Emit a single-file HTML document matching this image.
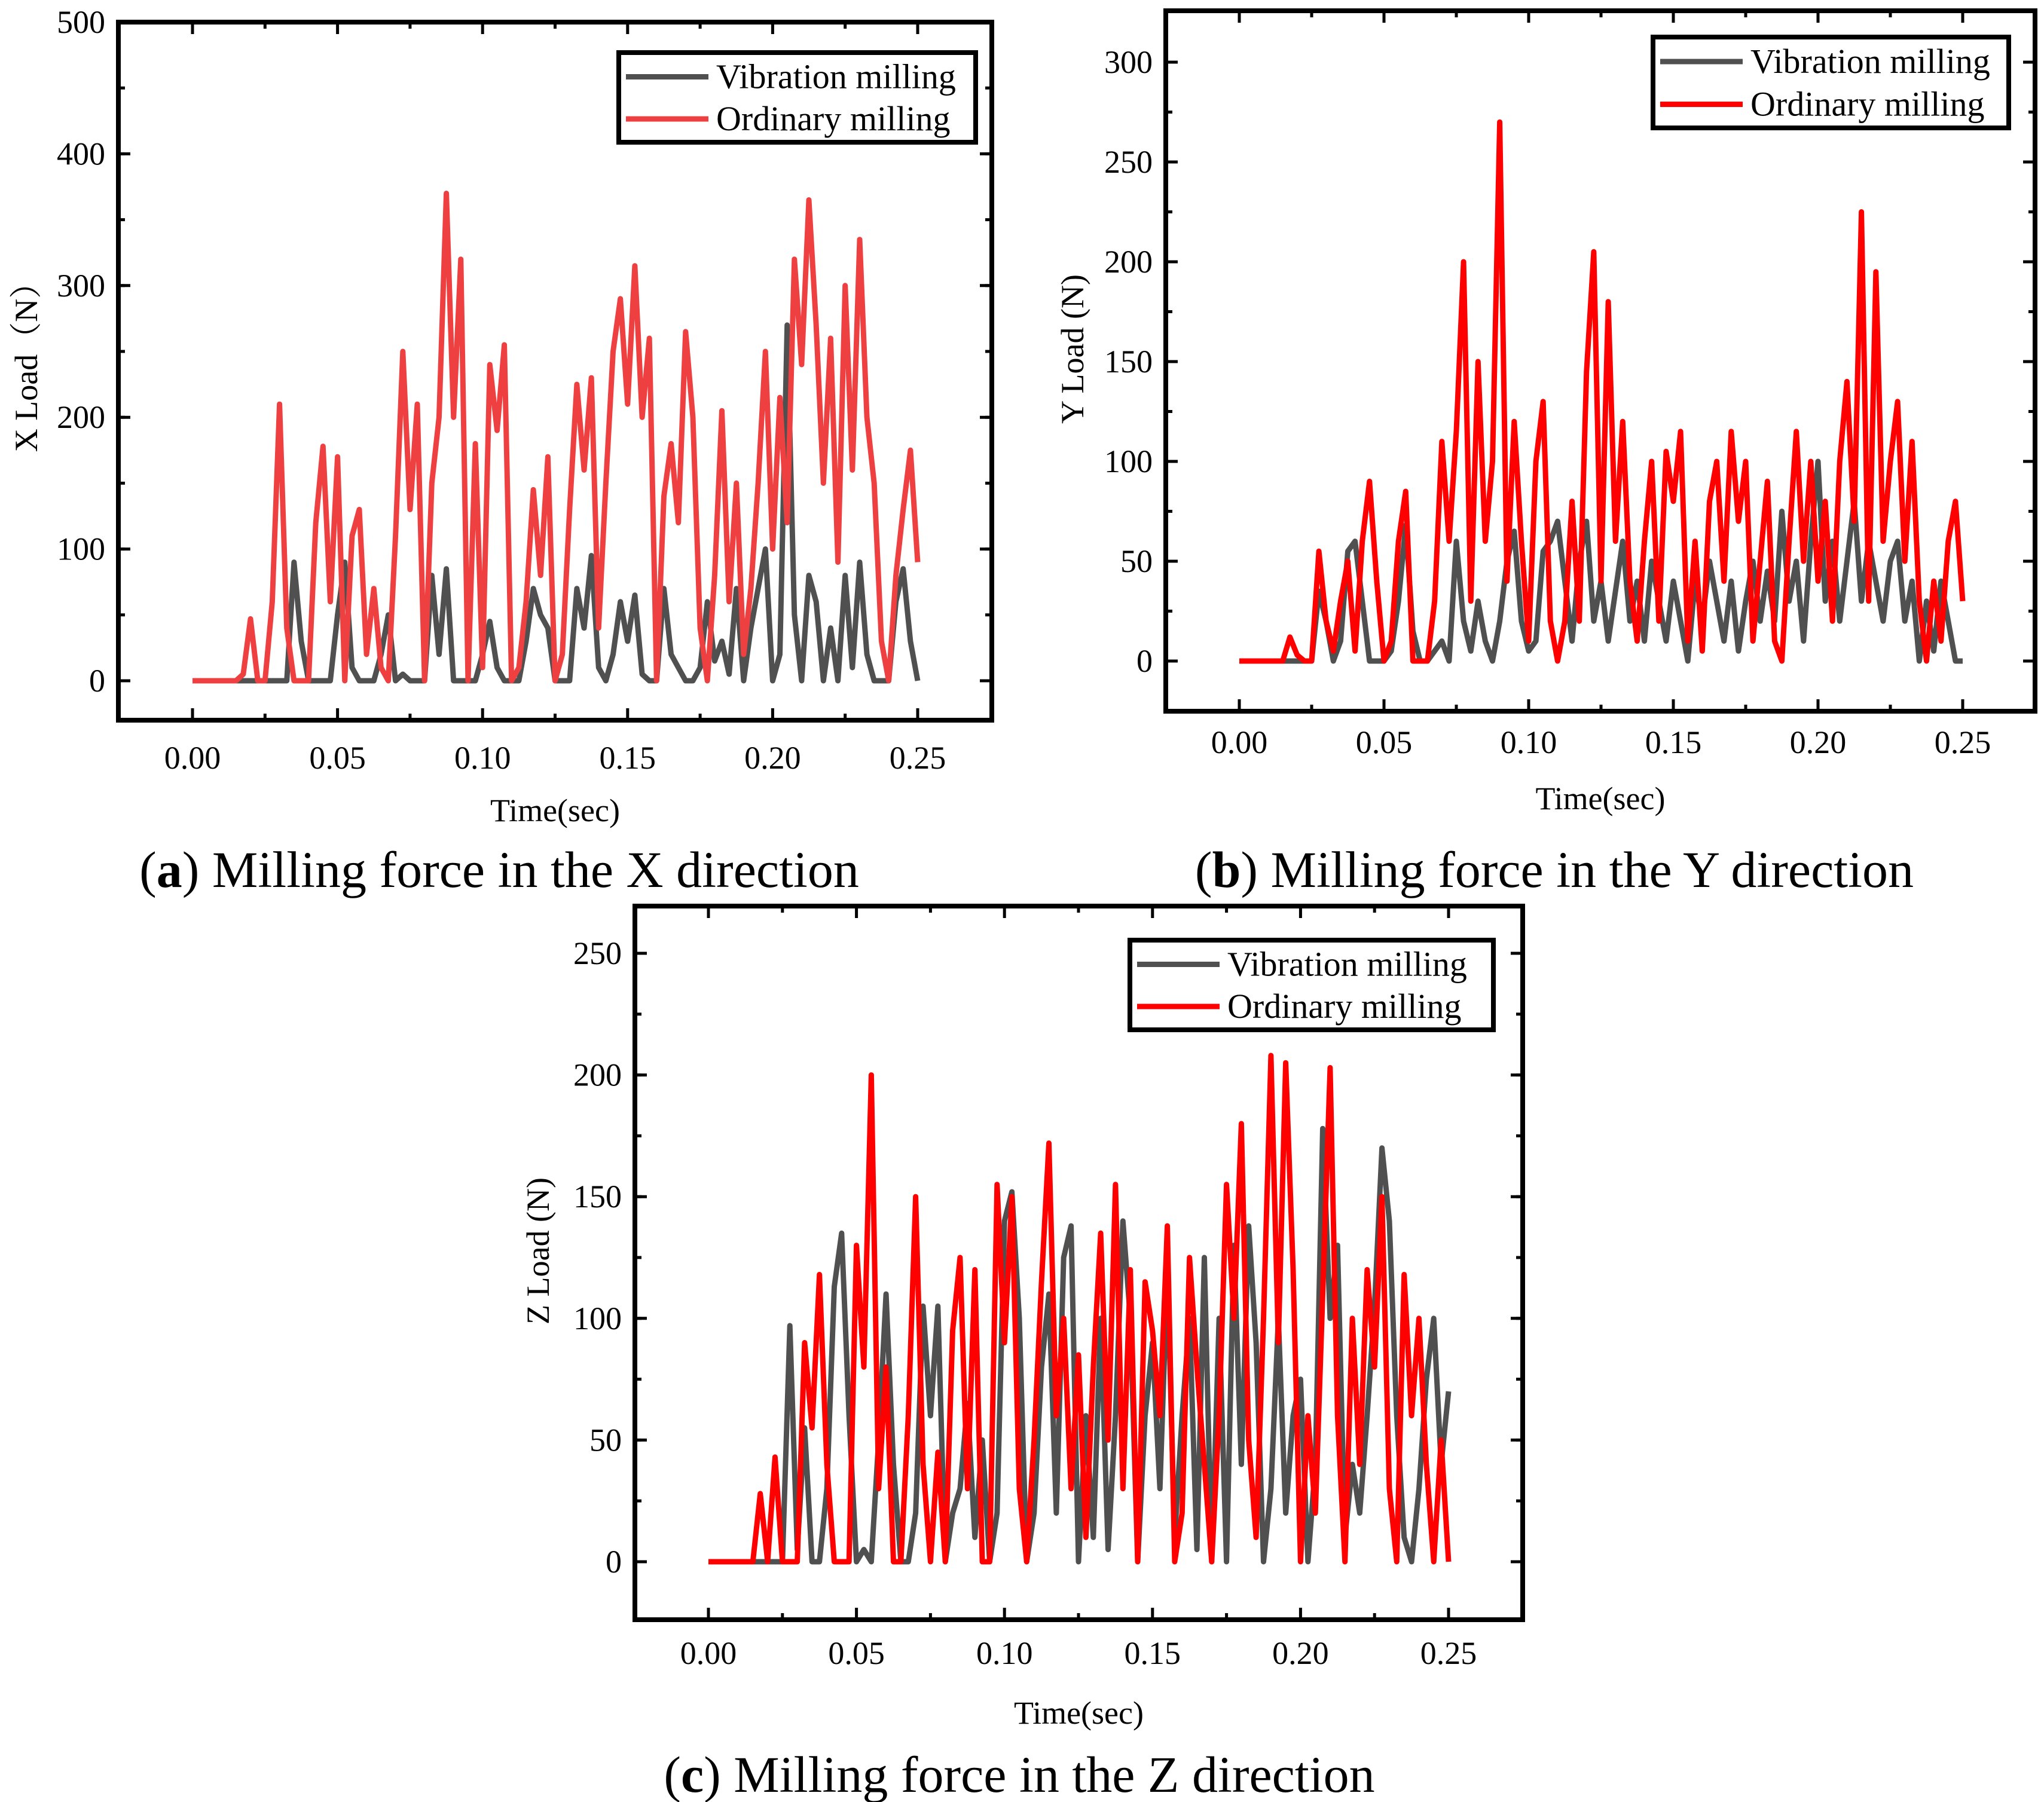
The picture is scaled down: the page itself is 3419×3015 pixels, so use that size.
<!DOCTYPE html>
<html><head><meta charset="utf-8"><style>
html,body{margin:0;padding:0;background:#fff}
svg{display:block}
text{font-family:"Liberation Serif","Noto Serif CJK SC",serif;fill:#000}
</style></head><body>
<svg id="fig" width="3419" height="3015" viewBox="0 0 3419 3015" xmlns="http://www.w3.org/2000/svg" font-family="Liberation Serif, Noto Serif CJK SC, serif">
<rect width="3419" height="3015" fill="#fff"/>
</svg>
<script>
const timeStep = 0.0025;
const xOrdinary = [0,0,0,0,0,0,0,5,47,0,0,60,210,40,0,0,0,120,178,60,170,0,110,130,20,70,10,0,110,250,130,210,0,150,200,370,200,320,0,180,10,240,190,255,0,10,60,145,80,170,0,20,130,225,160,230,40,150,250,290,210,315,200,260,0,140,180,120,265,200,40,0,80,205,60,150,20,70,150,250,100,215,120,320,240,365,270,150,260,90,300,160,335,200,150,30,0,80,130,175,90];
const xVibration = [0,0,0,0,0,0,0,0,0,0,0,0,0,0,90,30,0,0,0,0,50,90,10,0,0,0,20,50,0,5,0,0,0,80,20,85,0,0,0,0,20,45,10,0,0,0,30,70,50,40,0,0,0,70,40,95,10,0,20,60,30,65,5,0,0,70,20,10,0,0,10,60,15,30,5,70,0,40,70,100,0,20,270,50,0,80,60,0,40,0,80,10,90,20,0,0,0,60,85,30,0];
const yOrdinary = [0,0,0,0,0,0,0,12,3,0,0,55,20,5,30,50,5,60,90,40,0,10,60,85,0,0,0,30,110,60,115,200,30,150,60,100,270,40,120,60,10,100,130,20,0,20,80,20,145,205,40,180,60,120,40,10,60,100,20,105,80,115,10,60,5,80,100,40,115,70,100,10,50,90,10,0,60,115,50,100,40,80,20,100,140,70,225,30,195,60,100,130,50,110,30,0,40,10,60,80,30];
const yVibration = [0,0,0,0,0,0,0,0,0,0,0,35,20,0,10,55,60,30,0,0,0,5,30,68,15,0,0,5,10,0,60,20,5,30,10,0,20,50,65,20,5,10,55,60,70,40,10,50,70,20,40,10,35,60,20,40,10,50,30,10,40,20,0,40,20,50,30,10,40,5,30,50,20,45,20,75,30,50,10,60,100,30,60,20,50,80,30,60,40,20,50,60,20,40,0,30,5,40,20,0,0];
const zOrdinary = [0,0,0,0,0,0,0,28,0,43,0,0,0,90,55,118,40,0,0,0,130,80,200,30,80,0,0,60,150,40,0,45,0,95,125,30,120,0,0,155,90,150,30,0,50,115,172,60,100,30,85,10,80,135,50,155,30,120,0,115,95,60,138,0,20,125,80,40,0,60,155,100,180,50,10,100,208,90,205,120,0,60,20,110,203,60,0,100,40,120,80,150,30,0,118,60,100,40,0,50,0];
const zVibration = [0,0,0,0,0,0,0,0,0,0,0,97,5,55,0,0,30,113,135,60,0,5,0,50,110,40,0,0,20,105,60,105,0,20,30,65,10,50,0,20,140,152,100,0,20,80,110,20,125,138,0,60,10,100,5,60,140,100,0,60,90,30,120,10,60,100,5,125,0,100,0,130,40,138,90,0,30,100,20,60,75,0,40,178,100,130,10,40,20,60,105,170,140,60,10,0,30,75,100,40,70];
const xTickLabels = ["0.00","0.05","0.10","0.15","0.20","0.25"];
const xTickValues = [0,0.05,0.10,0.15,0.20,0.25];
const aYTicks = [0,100,200,300,400,500];
const bYTicks = [0,50,100,150,200,250,300];
const cYTicks = [0,50,100,150,200,250];

const NS="http://www.w3.org/2000/svg";
const FF='"Liberation Serif","Noto Serif CJK SC",serif';
const svg=document.getElementById('fig');
function mk(tag,attrs,parent){const e=document.createElementNS(NS,tag);for(const k in attrs)e.setAttribute(k,attrs[k]);if(tag==='text'){e.setAttribute('font-family',FF);e.style.fontFamily=FF;}(parent||svg).appendChild(e);return e;}

function drawChart(c){
  const g=mk('g',{});
  
  
  const sx=v=>c.x0+(v-0)/(0.25)*(c.x1-c.x0);
  const sy=v=>c.y0-(v/c.ymaxTick)*(c.y0-c.yTop);
  const tg=mk('g',{stroke:'#000','stroke-width':5},g);
  const ytickStep=c.yticks[1]-c.yticks[0];
  for(let i=0;i<c.yticks.length;i++){
    const v=c.yticks[i];const y=sy(v);
    if(y<c.fy0||y>c.fy1) continue;
    mk('line',{x1:c.fx0,x2:c.fx0+20,y1:y,y2:y},tg);
    mk('line',{x1:c.fx1,x2:c.fx1-20,y1:y,y2:y},tg);
    const t=mk('text',{x:c.fx0-22,y:y+18,'text-anchor':'end','font-size':54,stroke:'none'},g);
    t.textContent=v;
    
    
  }
  for(let v=-ytickStep/2*3;v<=c.yticks[c.yticks.length-1]+ytickStep;v+=ytickStep/2){
    const y=sy(v); if(y<c.fy0+5||y>c.fy1-5) continue;
    mk('line',{x1:c.fx0,x2:c.fx0+11,y1:y,y2:y},tg);
    mk('line',{x1:c.fx1,x2:c.fx1-11,y1:y,y2:y},tg);
  }
  for(let i=0;i<xTickValues.length;i++){
    const x=sx(xTickValues[i]);
    mk('line',{x1:x,x2:x,y1:c.fy1,y2:c.fy1-20},tg);
    mk('line',{x1:x,x2:x,y1:c.fy0,y2:c.fy0+20},tg);
    const t=mk('text',{x:x,y:c.tickY,'text-anchor':'middle','font-size':54},g);
    t.textContent=xTickLabels[i];
    
    
  }
  for(let v=-0.025;v<=0.275;v+=0.05){
    const x=sx(v); if(x<c.fx0+5||x>c.fx1-5) continue;
    mk('line',{x1:x,x2:x,y1:c.fy1,y2:c.fy1-11},tg);
    mk('line',{x1:x,x2:x,y1:c.fy0,y2:c.fy0+11},tg);
  }
  const series=[[c.gray,'#505050','vibration-series'],[c.red,c.redColor,'ordinary-series']];
  for(const [arr,col,nm] of series){
    const pts=arr.map((v,i)=>sx(i*timeStep).toFixed(1)+','+sy(v).toFixed(1)).join(' ');
    const p=mk('polyline',{points:pts,fill:'none',stroke:col,'stroke-width':9,'stroke-linejoin':'round'},g);
    
    
  }
  const fr=mk('rect',{x:c.fx0,y:c.fy0,width:c.fx1-c.fx0,height:c.fy1-c.fy0,fill:'none',stroke:'#000','stroke-width':8},g);
  
  
  const L=c.leg;
  const lg=mk('g',{},g);
  
  
  mk('rect',{x:L.x,y:L.y,width:L.w,height:L.h,fill:'#fff',stroke:'#000','stroke-width':8},lg);
  const rows=[['Vibration milling','#505050'],['Ordinary milling',c.redColor]];
  rows.forEach((r,i)=>{
    const yy=L.y+L.h*(0.27+0.47*i);
    mk('line',{x1:L.x+12,x2:L.x+150,y1:yy,y2:yy,stroke:r[1],'stroke-width':9},lg);
    const t=mk('text',{x:L.x+163,y:yy+19,'font-size':58},lg);
    t.textContent=r[0];
    
    
  });
  const xl=mk('text',{x:(c.fx0+c.fx1)/2,y:c.xlabY,'text-anchor':'middle','font-size':54},g);
  xl.textContent='Time(sec)';
  
  
  const yl=mk('text',{x:0,y:0,'text-anchor':'middle','font-size':54,transform:`translate(${c.ylabX},${(c.fy0+c.fy1)/2-20}) rotate(-90)`},g);
  yl.textContent=c.ylab;
  
  
  const cap=mk('text',{x:c.capX,y:c.capY,'text-anchor':'middle','font-size':86},g);
  cap.innerHTML='(<tspan font-weight="bold">'+c.capL+'</tspan>) '+c.capT;
  
  
}

drawChart({id:'panel-a',fx0:198,fx1:1659,fy0:37,fy1:1205,x0:322,x1:1535,y0:1139,yTop:37,ymaxTick:500,
  yticks:aYTicks,gray:xVibration,red:xOrdinary,redColor:'#ee4040',tickY:1286,xlabY:1374,ylabX:62,ylab:'X Load（N）',
  leg:{x:1035,y:88,w:597,h:150},capX:835,capY:1484,capL:'a',capT:'Milling force in the X direction'});
drawChart({id:'panel-b',fx0:1950,fx1:3404,fy0:18,fy1:1190,x0:2073,x1:3283,y0:1106,yTop:104,ymaxTick:300,
  yticks:bYTicks,gray:yVibration,red:yOrdinary,redColor:'#ff0000',tickY:1260,xlabY:1354,ylabX:1812,ylab:'Y Load (N)',
  leg:{x:2765,y:62,w:595,h:152},capX:2600,capY:1484,capL:'b',capT:'Milling force in the Y direction'});
drawChart({id:'panel-c',fx0:1062,fx1:2547,fy0:1516,fy1:2710,x0:1185,x1:2423,y0:2613,yTop:1595,ymaxTick:250,
  yticks:cYTicks,gray:zVibration,red:zOrdinary,redColor:'#ff0000',tickY:2784,xlabY:2884,ylabX:918,ylab:'Z Load (N)',
  leg:{x:1890,y:1573,w:608,h:150},capX:1705,capY:2998,capL:'c',capT:'Milling force in the Z direction'});
</script>
</body></html>
